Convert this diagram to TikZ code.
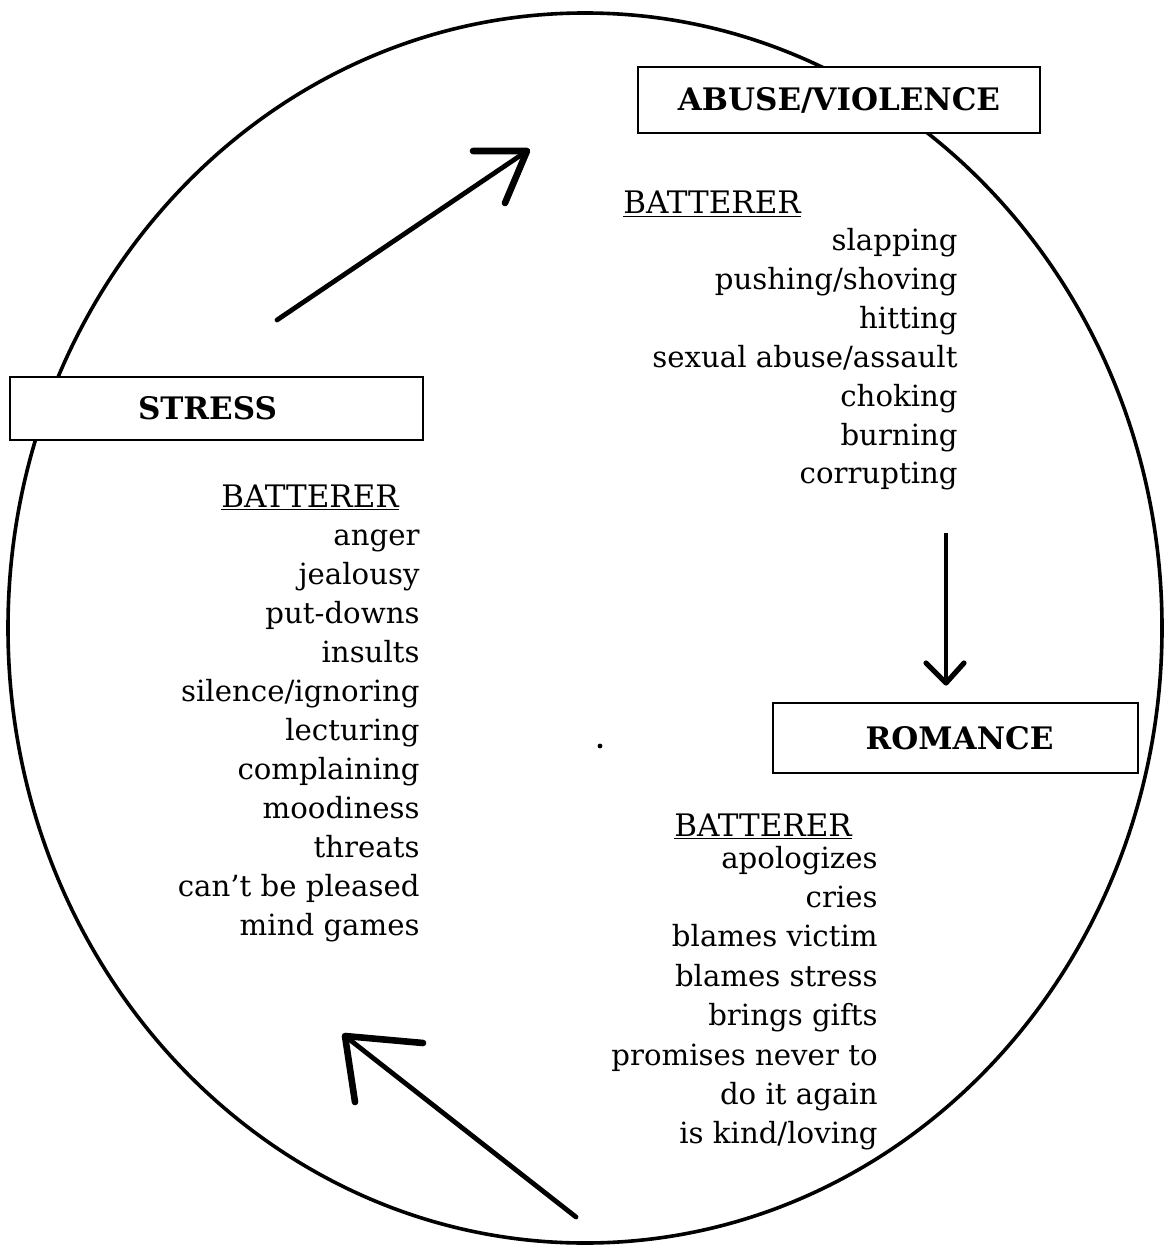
\documentclass[tikz,border=0pt]{standalone}
\usepackage{fontspec}
\setmainfont{DejaVu Serif}
\begin{document}
\begin{tikzpicture}[x=0.5pt,y=-0.5pt,
  stage/.style={draw=black,line width=1.2pt,fill=white,inner sep=0pt,
    font=\fontsize{15.5}{18}\selectfont\bfseries},
  item/.style={anchor=base east,inner sep=0pt,font=\fontsize{14.6}{17}\selectfont},
  head/.style={anchor=base west,inner sep=0pt,font=\fontsize{15.5}{18}\selectfont},
  shaft/.style={line width=2.4pt,line cap=round},
  barb/.style={line width=3.3pt,line cap=round,line join=round}]
\useasboundingbox (0,0) rectangle (1164,1245);
% cycle ellipse
\draw[line width=1.8pt] (585,628) ellipse [x radius=288.5pt, y radius=307.5pt];
% stage boxes
\node[stage,minimum width=201pt,minimum height=33pt] (abuse) at (839,100) {ABUSE/VIOLENCE};
\node[stage,minimum width=206.5pt,minimum height=31.5pt] (stress) at (216.5,408.5) {\hspace*{-9pt}STRESS};
\node[stage,minimum width=182.5pt,minimum height=35pt] (romance) at (955.5,738) {\hspace*{4pt}ROMANCE};
% stress list
\node[head] (sh) at (221,507) {\underline{BATTERER}};
\foreach \t [count=\i] in {anger,jealousy,put-downs,insults,silence/ignoring,lecturing,complaining,moodiness,threats,can't be pleased,mind games}
  \node[item] (s\i) at (420,{545+39*(\i-1)}) {\t};
% abuse list
\node[head] (ah) at (623,214) {\underline{BATTERER}};
\foreach \t [count=\i] in {slapping,pushing/shoving,hitting,sexual abuse/assault,choking,burning,corrupting}
  \node[item] (a\i) at (958,{251+38.8*(\i-1)}) {\t};
% romance list
\node[head] (rh) at (674,836) {\underline{BATTERER}};
\foreach \t [count=\i] in {apologizes,cries,blames victim,blames stress,brings gifts,promises never to,do it again,is kind/loving}
  \node[item] (r\i) at (878,{868+39.4*(\i-1)}) {\t};
% arrow 1: stress -> abuse
\coordinate (t1) at (277,320);
\coordinate (h1) at (527,151);
\coordinate (h1a) at (473,151);
\coordinate (h1b) at (505,203);
\draw[shaft] (t1) -- (h1);
\draw[barb] (h1a) -- (h1) -- (h1b);
% arrow 2: abuse -> romance
\coordinate (t2) at (946,533);
\coordinate (h2) at (946,683);
\coordinate (h2a) at (926,663);
\coordinate (h2b) at (964,663);
\draw[line width=1.8pt] (t2) -- (h2);
\draw[barb,line width=2.6pt] (h2a) -- (h2) -- (h2b);
% arrow 3: romance -> stress
\coordinate (t3) at (576,1217);
\coordinate (h3) at (345,1036);
\coordinate (h3a) at (423,1043);
\coordinate (h3b) at (355,1102);
\draw[shaft] (t3) -- (h3);
\draw[barb] (h3a) -- (h3) -- (h3b);
% stray dot
\fill (600,746) circle[radius=1.2pt];
\end{tikzpicture}
\end{document}
